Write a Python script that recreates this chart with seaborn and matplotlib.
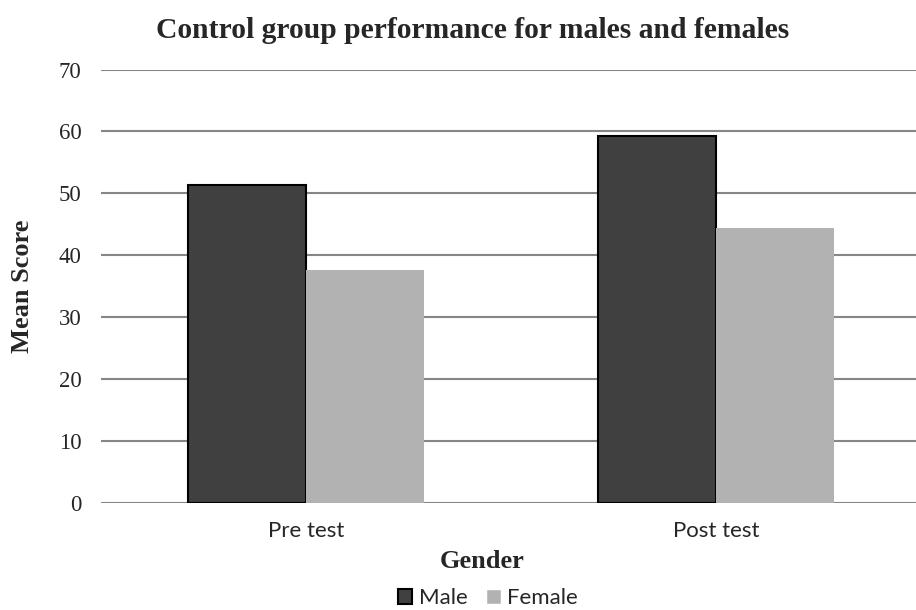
#!/usr/bin/env python

import pandas as pd
import seaborn as sns
import matplotlib.pyplot as plt

# values
tests = ["Pre test", "Post test"]
male_scores = [51.4, 59.2]
female_scores = [37.6, 44.4]
genders = ["Male", "Female"]
y_ticks = [0, 10, 20, 30, 40, 50, 60, 70]


def build_df():
    rows = []
    for i, t in enumerate(tests):
        rows.append({"Test": t, "Gender": "Male", "Score": male_scores[i]})
        rows.append({"Test": t, "Gender": "Female", "Score": female_scores[i]})
    return pd.DataFrame(rows)


def create_plot(df):
    sns.set_style("white")
    fig = plt.figure(figsize=(9.16, 6.1), dpi=100)
    ax = fig.add_axes([101 / 916, 0.176, 820 / 916, 0.710])

    sns.barplot(data=df, x="Test", y="Score", hue="Gender", hue_order=genders,
                palette=["#404040", "#b2b2b2"], width=0.576, saturation=1,
                ax=ax, zorder=3)

    # dark bars get a black outline, light bars none
    for bar in ax.containers[0]:
        bar.set_edgecolor("black")
        bar.set_linewidth(1.5)
    for bar in ax.containers[1]:
        bar.set_edgecolor("none")

    ax.set_ylim(0, 70)
    ax.set_xlim(-0.5, 1.5)
    ax.set_yticks(y_ticks)
    ax.set_yticklabels([str(v) for v in y_ticks], family="Liberation Serif", fontsize=16.5)
    ax.set_xticks(range(len(tests)))
    ax.set_xticklabels(tests, family="Lato", fontsize=16)
    ax.tick_params(axis="y", length=0, pad=14)
    ax.tick_params(axis="x", length=0, pad=13)
    ax.yaxis.grid(True, color="#868686", linewidth=1.5, zorder=0)
    ax.set_axisbelow(True)
    sns.despine(ax=ax, left=True, bottom=True, top=True, right=True)

    ax.set_xlabel("Gender", family="Liberation Serif", fontweight="bold", fontsize=19)
    ax.xaxis.set_label_coords((482 - 101) / 820, -(550 - 503) / 433, transform=ax.transAxes)
    ax.set_ylabel("Mean Score", family="Liberation Serif", fontweight="bold", fontsize=19)
    ax.yaxis.set_label_coords(-(101 - 34) / 820, 0.5, transform=ax.transAxes)
    fig.text(473 / 916, 0.95, "Control group performance for males and females",
             ha="center", va="center", family="Liberation Serif",
             fontweight="bold", fontsize=21.3)

    handles, labels = ax.get_legend_handles_labels()
    ax.get_legend().remove()
    handles[0].set_edgecolor("black")
    handles[0].set_linewidth(1.5)
    fig.legend(handles, labels, loc="center", bbox_to_anchor=(488 / 916, 1 - 598 / 610),
               ncol=2, frameon=False, handlelength=0.64, handleheight=0.64,
               handletextpad=0.3, columnspacing=0.85, borderpad=0,
               prop={"family": "Lato", "size": 16})

    fig.savefig("out.png", dpi=100)
    plt.close(fig)


def main():
    df = build_df()
    create_plot(df)


if __name__ == '__main__':
    main()
